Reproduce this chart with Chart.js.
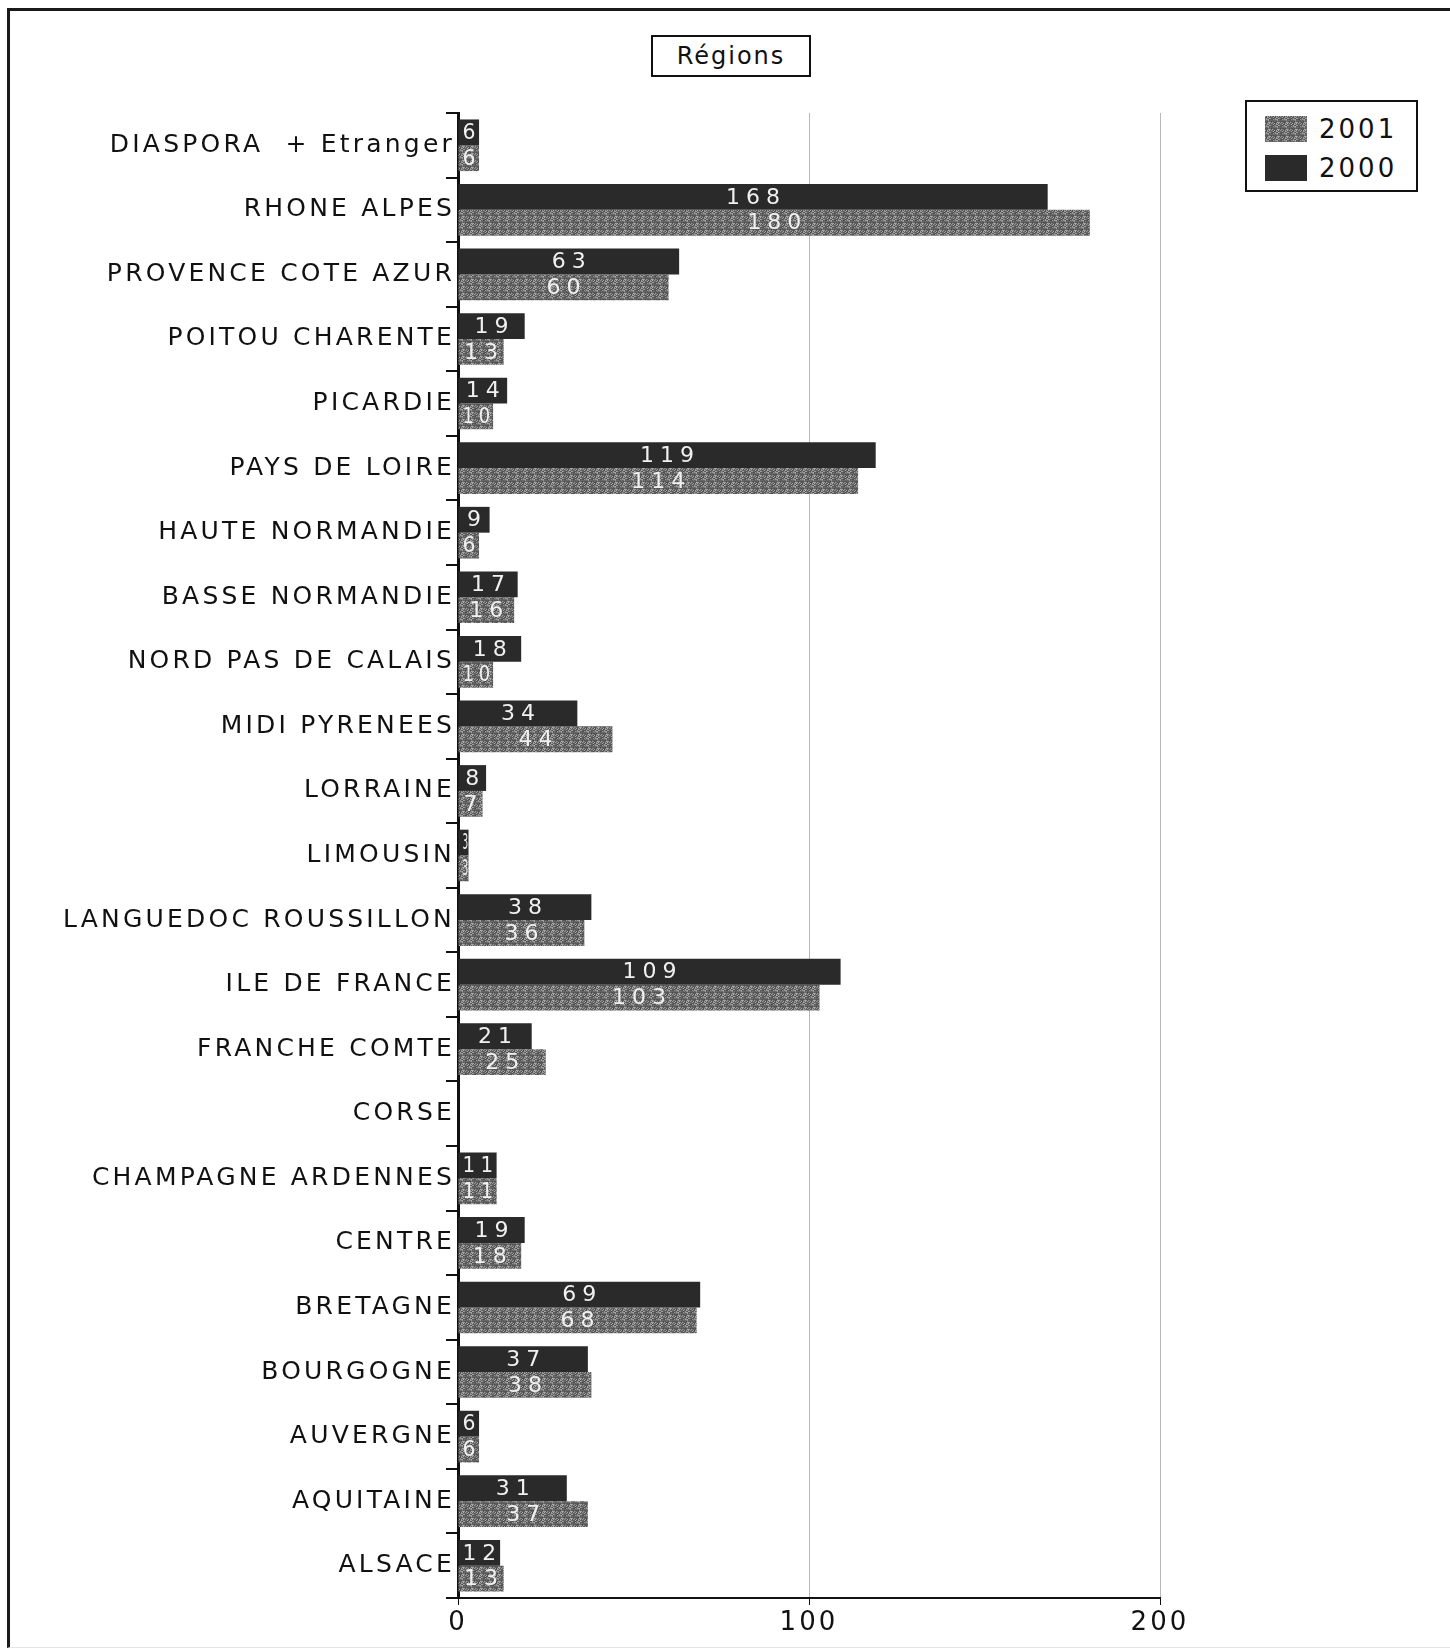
<!DOCTYPE html>
<html>
<head>
<meta charset="utf-8">
<script src="https://cdn.jsdelivr.net/npm/chart.js@4.4.1/dist/chart.umd.min.js"></script>
<style>
  body { margin: 0; background: #fff; }
  #wrap { position: relative; width: 1450px; height: 1650px; overflow: hidden; font-family: "DejaVu Sans", sans-serif; }
  #frame { position: absolute; left: 7px; top: 8px; width: 1450px; height: 1636px;
           border-left: 3px solid #1a1a1a; border-top: 3px solid #1a1a1a; border-bottom: 1px solid #e4e4e4; }
  #title { position: absolute; left: 651px; top: 35px; width: 156px; height: 38px; border: 2px solid #111;
           text-align: center; line-height: 38px; font-size: 24px; letter-spacing: 2px; color: #111; }
  #legend { position: absolute; left: 1245px; top: 100px; width: 169px; height: 88px; border: 2px solid #111; }
  .item { position: absolute; left: 18px; height: 26px; }
  .item .sw { position: absolute; left: 0; top: 0; width: 42px; height: 26px; }
  .item span { position: absolute; left: 54px; top: -1px; font-size: 26px; letter-spacing: 3px; color: #111; line-height: 28px; }
  canvas { position: absolute; left: 0; top: 0; }
</style>
</head>
<body>
<div id="wrap">
  <div id="frame"></div>
  <div id="title">Régions</div>
  <div id="legend"></div>
  <canvas id="chart" width="1450" height="1650"></canvas>
</div>
<script>
// catégories, de haut en bas
const regions = [
  'DIASPORA  + Etranger', 'RHONE ALPES', 'PROVENCE COTE AZUR', 'POITOU CHARENTE', 'PICARDIE',
  'PAYS DE LOIRE', 'HAUTE NORMANDIE', 'BASSE NORMANDIE', 'NORD PAS DE CALAIS', 'MIDI PYRENEES',
  'LORRAINE', 'LIMOUSIN', 'LANGUEDOC ROUSSILLON', 'ILE DE FRANCE', 'FRANCHE COMTE', 'CORSE',
  'CHAMPAGNE ARDENNES', 'CENTRE', 'BRETAGNE', 'BOURGOGNE', 'AUVERGNE', 'AQUITAINE', 'ALSACE'
];
const values2000 = [6, 168, 63, 19, 14, 119, 9, 17, 18, 34, 8, 3, 38, 109, 21, 0, 11, 19, 69, 37, 6, 31, 12];
const values2001 = [6, 180, 60, 13, 10, 114, 6, 16, 10, 44, 7, 3, 36, 103, 25, 0, 11, 18, 68, 38, 6, 37, 13];
const seriesLabels = ['2000', '2001'];
const xTicks = [0, 100, 200];

// motif gris tacheté pour 2001
const makeSpeckle = () => {
  const c = document.createElement('canvas');
  c.width = 9; c.height = 7;
  const g = c.getContext('2d');
  for (let y = 0; y < c.height; y++) {
    for (let x = 0; x < c.width; x++) {
      const h = ((x * 37 + y * 61) ^ (x * y * 13 + 5)) % 7;
      const shade = [84, 100, 150, 112, 76, 168, 94][h];
      g.fillStyle = `rgb(${shade},${shade},${shade})`;
      g.fillRect(x, y, 1, 1);
    }
  }
  return c;
};
const speckleCanvas = makeSpeckle();
const ctx = document.getElementById('chart').getContext('2d');
const grayFill = ctx.createPattern(speckleCanvas, 'repeat');
const darkFill = '#2a2a2a';
const fills = [darkFill, grayFill];

// légende HTML (2001 puis 2000)
const legend = document.getElementById('legend');
[1, 0].forEach((i, row) => {
  const item = document.createElement('div');
  item.className = 'item';
  item.style.top = (14 + row * 39) + 'px';
  const sw = document.createElement('div');
  sw.className = 'sw';
  if (i === 1) sw.style.backgroundImage = `url(${speckleCanvas.toDataURL()})`;
  else sw.style.background = darkFill;
  const t = document.createElement('span');
  t.textContent = seriesLabels[i];
  item.appendChild(sw);
  item.appendChild(t);
  legend.appendChild(item);
});

// espacement des lettres pour imiter la police d'origine
const spacingPlugin = {
  id: 'spacing',
  beforeDraw(chart) { chart.ctx.letterSpacing = '3.2px'; }
};

// valeurs écrites dans les barres
const barLabels = {
  id: 'barLabels',
  afterDatasetsDraw(chart) {
    const c = chart.ctx;
    c.save();
    c.letterSpacing = '6px';
    c.font = '22px "DejaVu Sans"';
    c.fillStyle = '#f0f0f0';
    c.textAlign = 'center';
    c.textBaseline = 'middle';
    chart.data.datasets.forEach((ds, di) => {
      chart.getDatasetMeta(di).data.forEach((bar, i) => {
        const v = ds.data[i];
        if (!v) return;
        const w = Math.abs(bar.x - bar.base);
        const cx = (bar.x + bar.base) / 2 + 3;
        c.fillText(String(v), cx, bar.y + 1, Math.max(w - 2, 4));
      });
    });
    c.restore();
  }
};

new Chart(ctx, {
  type: 'bar',
  data: {
    labels: regions,
    datasets: seriesLabels.map((label, i) => ({
      label,
      data: i === 0 ? values2000 : values2001,
      backgroundColor: fills[i],
      borderWidth: 0,
      categoryPercentage: 0.8,
      barPercentage: 1.0,
    })),
  },
  options: {
    indexAxis: 'y',
    responsive: false,
    animation: false,
    devicePixelRatio: 1,
    layout: { padding: { left: 18, right: 290, top: 113, bottom: 0 } },
    plugins: {
      legend: { display: false },
      tooltip: { enabled: false },
    },
    scales: {
      x: {
        min: 0,
        max: 200,
        afterBuildTicks: (scale) => { scale.ticks = xTicks.map((v) => ({ value: v })); },
        afterFit: (scale) => { scale.height = 52; },
        border: { color: '#111', width: 2 },
        grid: {
          color: (c) => (c.tick && c.tick.value === 0 ? 'rgba(0,0,0,0)' : '#b8b8b8'),
          tickColor: '#111',
          tickLength: 7,
          lineWidth: 1,
        },
        ticks: {
          color: '#111',
          padding: 3,
          font: { family: 'DejaVu Sans', size: 26 },
        },
      },
      y: {
        afterFit: (scale) => { scale.width = 440; },
        border: { color: '#111', width: 3 },
        grid: {
          offset: true,
          drawOnChartArea: false,
          tickColor: '#111',
          tickLength: 12,
          lineWidth: 2,
        },
        ticks: {
          color: '#111',
          padding: -9,
          autoSkip: false,
          font: { family: 'DejaVu Sans', size: 25 },
        },
      },
    },
  },
  plugins: [spacingPlugin, barLabels],
});
</script>
</body>
</html>
